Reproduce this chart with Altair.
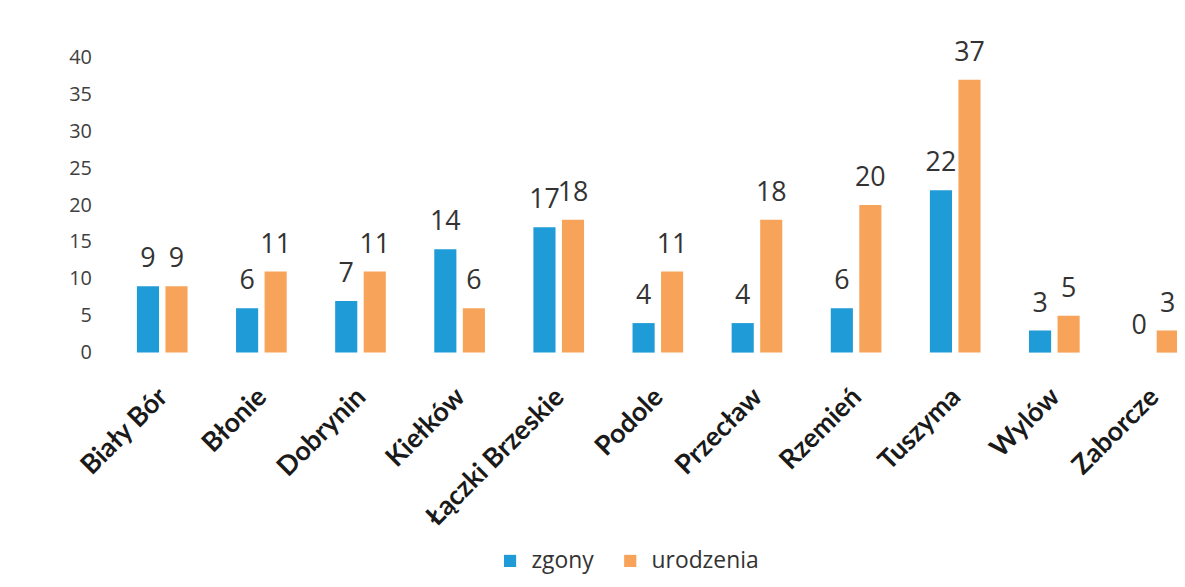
import altair as alt
import pandas as pd

categories = ["Biały Bór", "Błonie", "Dobrynin", "Kiełków", "Łączki Brzeskie",
              "Podole", "Przecław", "Rzemień", "Tuszyma", "Wylów", "Zaborcze"]
zgony = [9, 6, 7, 14, 17, 4, 4, 6, 22, 3, 0]
urodzenia = [9, 11, 11, 6, 18, 11, 18, 20, 37, 5, 3]
series = ["zgony", "urodzenia"]
colors = ["#1f9bd7", "#f7a35a"]
y_ticks = [0, 5, 10, 15, 20, 25, 30, 35, 40]

rows = []
for c, z, u in zip(categories, zgony, urodzenia):
    rows.append({"miejscowosc": c, "seria": "zgony", "wartosc": z})
    rows.append({"miejscowosc": c, "seria": "urodzenia", "wartosc": u})
df = pd.DataFrame(rows)

FONT = "Open Sans"

x = alt.X(
    "miejscowosc:N", sort=categories,
    scale=alt.Scale(paddingInner=0.489, paddingOuter=0.2385, range=[0, 1096.6]),
    axis=alt.Axis(title=None, labelAngle=-45, labelFontSize=27, labelFontWeight="bold",
                  labelFont="Lato", labelColor="#1a1a1a", domain=False, ticks=False,
                  labelPadding=31, labelOffset=-8, labelLimit=0),
)
xoff = alt.XOffset("seria:N", sort=series,
                   scale=alt.Scale(paddingInner=0.225, paddingOuter=0))
y = alt.Y(
    "wartosc:Q",
    scale=alt.Scale(domain=[0, 40], nice=False),
    axis=alt.Axis(title=None, values=y_ticks, grid=False, domain=False, ticks=False,
                  labelFontSize=20, labelFont=FONT, labelColor="#404040", labelPadding=22),
)
color = alt.Color(
    "seria:N", sort=series,
    scale=alt.Scale(domain=series, range=colors),
    legend=alt.Legend(title=None, orient="none", legendX=388, legendY=495,
                      direction="horizontal", symbolType="square", symbolSize=150,
                      symbolStrokeWidth=0, labelFontSize=23, labelFont=FONT,
                      labelColor="#333333", columnPadding=25, labelOffset=10),
)

bars = alt.Chart(df).mark_bar().encode(x=x, xOffset=xoff, y=y, color=color)
labels = alt.Chart(df).mark_text(dy=-19, baseline="alphabetic", fontSize=27,
                                 font=FONT, color="#333333").encode(
    x=x, xOffset=xoff, y=y, text="wartosc:Q")

chart = (bars + labels).properties(
    width=1071, height=297,
    autosize=alt.AutoSizeParams(type="none"),
    padding={"left": 106, "top": 48, "right": 0, "bottom": 226},
).configure(background="white").configure_view(stroke=None)

chart.save("out.html", embed_options={"renderer": "svg", "actions": False})
